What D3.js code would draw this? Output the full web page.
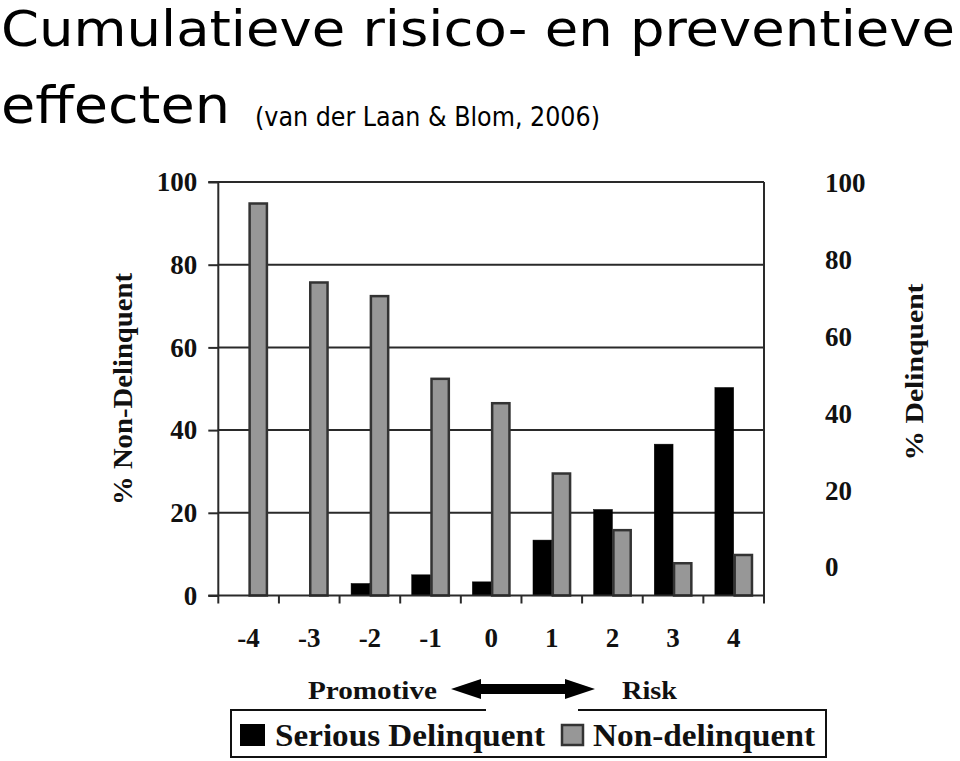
<!DOCTYPE html>
<html>
<head>
<meta charset="utf-8">
<script src="https://cdn.jsdelivr.net/npm/d3@7"></script>
<style>
  html, body { margin: 0; padding: 0; background: #fff; }
  svg { display: block; }
</style>
</head>
<body>
<div id="chart"></div>
<script>
// ---- Data ----
const categories = ["-4", "-3", "-2", "-1", "0", "1", "2", "3", "4"];
const seriousDelinquent = [0, 0, 2.9, 5.0, 3.3, 13.4, 20.8, 36.6, 50.3];
const nonDelinquent = [94.8, 75.7, 72.4, 52.4, 46.5, 29.5, 15.8, 7.8, 9.8];
const seriesNames = ["Serious Delinquent", "Non-delinquent"];
const leftTicks = [0, 20, 40, 60, 80, 100];
const rightTicks = [0, 20, 40, 60, 80, 100];
const titleLine1 = "Cumulatieve risico- en preventieve";
const titleLine2 = "effecten";
const subtitle = "(van der Laan & Blom, 2006)";
const leftAxisTitle = "% Non-Delinquent";
const rightAxisTitle = "% Delinquent";
const promotiveLabel = "Promotive";
const riskLabel = "Risk";

// ---- Setup ----
const W = 960, H = 761;
const plot = { left: 218.3, right: 764, top: 182, bottom: 595.5 };
const serif = "'Liberation Serif', 'Times New Roman', serif";
const sans = "'DejaVu Sans Condensed', 'DejaVu Sans', sans-serif";
const ink = "#111";
const gridCol = "#2a2a2a";

const svg = d3.select("#chart").append("svg")
  .attr("width", W).attr("height", H);

// Title
svg.append("text").attr("x", 1).attr("y", 46)
  .attr("font-family", sans).attr("font-size", 49).attr("fill", "#000")
  .attr("textLength", 954).attr("lengthAdjust", "spacingAndGlyphs")
  .text(titleLine1);
svg.append("text").attr("x", 1).attr("y", 123)
  .attr("font-family", sans).attr("font-size", 51).attr("fill", "#000")
  .attr("textLength", 229).attr("lengthAdjust", "spacingAndGlyphs")
  .text(titleLine2);
svg.append("text").attr("x", 255).attr("y", 126)
  .attr("font-family", sans).attr("font-size", 26).attr("fill", "#000")
  .attr("textLength", 345).attr("lengthAdjust", "spacingAndGlyphs")
  .text(subtitle);

// Scales
const x0 = d3.scaleBand().domain(categories).range([plot.left, plot.right]).padding(0);
const bw = x0.bandwidth();
const x1 = d3.scaleBand().domain(seriesNames).range([bw * 0.19, bw * 0.81]).padding(0);
const y = d3.scaleLinear().domain([0, 100]).range([plot.bottom, plot.top]);
const yR = d3.scaleLinear().domain([0, 100]).range([567, 183]);

// Gridlines
svg.append("g").selectAll("line").data(leftTicks.filter(d => d > 0)).join("line")
  .attr("x1", plot.left).attr("x2", plot.right)
  .attr("y1", d => y(d)).attr("y2", d => y(d))
  .attr("stroke", gridCol).attr("stroke-width", 2);

// Right border
svg.append("line").attr("x1", plot.right).attr("x2", plot.right)
  .attr("y1", plot.top).attr("y2", plot.bottom + 7)
  .attr("stroke", gridCol).attr("stroke-width", 2);

// Bars
const rows = categories.map((c, i) => ({ cat: c, vals: [seriousDelinquent[i], nonDelinquent[i]] }));
const groups = svg.append("g").selectAll("g").data(rows).join("g")
  .attr("transform", d => `translate(${x0(d.cat)},0)`);
groups.selectAll("rect")
  .data(d => d.vals.map((v, k) => ({ key: seriesNames[k], v })).filter(e => e.v > 0))
  .join("rect")
  .attr("x", d => x1(d.key) + (d.key === seriesNames[1] ? 1 : 0))
  .attr("width", d => x1.bandwidth() - (d.key === seriesNames[1] ? 1.5 : 0))
  .attr("y", d => y(d.v))
  .attr("height", d => y(0) - y(d.v))
  .attr("fill", d => d.key === seriesNames[0] ? "#000" : "#979797")
  .attr("stroke", d => d.key === seriesNames[0] ? "#000" : "#333")
  .attr("stroke-width", d => d.key === seriesNames[0] ? 0.5 : 2.5);

// Left axis
const leftAxis = svg.append("g").attr("transform", `translate(${plot.left},0)`)
  .call(d3.axisLeft(y).tickValues(leftTicks).tickSize(10).tickPadding(11));
leftAxis.select(".domain").attr("stroke", gridCol).attr("stroke-width", 2)
  .attr("d", `M-10,${y(100)}H0V${y(0)}`);
leftAxis.selectAll(".tick line").attr("stroke", gridCol).attr("stroke-width", 2);
leftAxis.selectAll(".tick text").attr("font-family", serif).attr("font-weight", "bold")
  .attr("font-size", 27).attr("fill", ink);

// Bottom axis: baseline + boundary ticks
svg.append("line").attr("x1", plot.left - 10).attr("x2", plot.right)
  .attr("y1", y(0)).attr("y2", y(0)).attr("stroke", gridCol).attr("stroke-width", 2);
const boundaries = categories.map(c => x0(c)).concat([plot.right]);
svg.append("g").selectAll("line").data(boundaries).join("line")
  .attr("x1", d => d).attr("x2", d => d)
  .attr("y1", y(0)).attr("y2", y(0) + 8)
  .attr("stroke", gridCol).attr("stroke-width", 2);
const bottomAxis = svg.append("g").attr("transform", `translate(0,${plot.bottom})`)
  .call(d3.axisBottom(x0).tickSize(0).tickPadding(32));
bottomAxis.select(".domain").remove();
bottomAxis.selectAll(".tick text").attr("font-family", serif).attr("font-weight", "bold")
  .attr("font-size", 27).attr("fill", ink);

// Right axis labels (no line)
svg.append("g").selectAll("text").data(rightTicks).join("text")
  .attr("x", 825).attr("y", d => yR(d)).attr("dy", "0.35em")
  .attr("font-family", serif).attr("font-weight", "bold").attr("font-size", 27)
  .attr("fill", ink).text(d => d);

// Axis titles
svg.append("text").attr("transform", "translate(132,389) rotate(-90)")
  .attr("text-anchor", "middle").attr("font-family", serif).attr("font-weight", "bold")
  .attr("font-size", 28).attr("fill", ink)
  .attr("textLength", 232).attr("lengthAdjust", "spacingAndGlyphs")
  .text(leftAxisTitle);
svg.append("text").attr("transform", "translate(923,372) rotate(-90)")
  .attr("text-anchor", "middle").attr("font-family", serif).attr("font-weight", "bold")
  .attr("font-size", 26).attr("fill", ink)
  .attr("textLength", 177).attr("lengthAdjust", "spacingAndGlyphs")
  .text(rightAxisTitle);

// Promotive <-> Risk annotation
svg.append("text").attr("x", 308).attr("y", 699)
  .attr("font-family", serif).attr("font-weight", "bold").attr("font-size", 26).attr("fill", ink)
  .attr("textLength", 129).attr("lengthAdjust", "spacingAndGlyphs").text(promotiveLabel);
svg.append("text").attr("x", 622).attr("y", 699)
  .attr("font-family", serif).attr("font-weight", "bold").attr("font-size", 26).attr("fill", ink)
  .attr("textLength", 55).attr("lengthAdjust", "spacingAndGlyphs").text(riskLabel);
const aL = 451, aR = 595, aY = 689, head = 30, hh = 10, sh = 5;
svg.append("path")
  .attr("d", `M${aL},${aY} L${aL + head},${aY - hh} L${aL + head},${aY - sh} L${aR - head},${aY - sh} L${aR - head},${aY - hh} L${aR},${aY} L${aR - head},${aY + hh} L${aR - head},${aY + sh} L${aL + head},${aY + sh} L${aL + head},${aY + hh} Z`)
  .attr("fill", "#000");

// Legend
const lg = { l: 231, r: 826, t: 710, b: 757, gapL: 486, gapR: 578 };
svg.append("path")
  .attr("d", `M${lg.gapL},${lg.t} H${lg.l} V${lg.b} H${lg.r} V${lg.t} H${lg.gapR}`)
  .attr("fill", "none").attr("stroke", "#111").attr("stroke-width", 2);
svg.append("rect").attr("x", 240).attr("y", 724).attr("width", 25).attr("height", 22).attr("fill", "#000");
svg.append("rect").attr("x", 562).attr("y", 725).attr("width", 21).attr("height", 20)
  .attr("fill", "#979797").attr("stroke", "#333").attr("stroke-width", 2.5);
svg.append("text").attr("x", 275).attr("y", 746)
  .attr("font-family", serif).attr("font-weight", "bold").attr("font-size", 32).attr("fill", ink)
  .attr("textLength", 270).attr("lengthAdjust", "spacingAndGlyphs").text(seriesNames[0]);
svg.append("text").attr("x", 593).attr("y", 746)
  .attr("font-family", serif).attr("font-weight", "bold").attr("font-size", 32).attr("fill", ink)
  .attr("textLength", 222).attr("lengthAdjust", "spacingAndGlyphs").text(seriesNames[1]);
</script>
</body>
</html>
